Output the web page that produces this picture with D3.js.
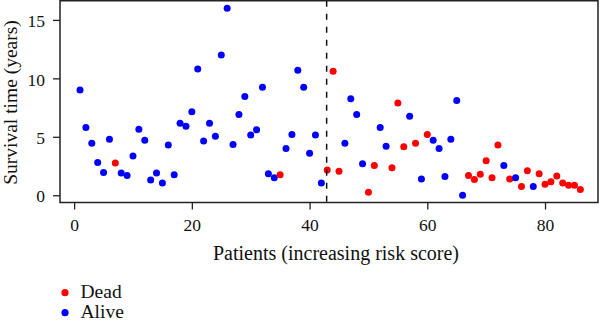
<!DOCTYPE html>
<html>
<head>
<meta charset="utf-8">
<script src="https://cdn.jsdelivr.net/npm/d3@7"></script>
<style>
  html, body { margin: 0; padding: 0; background: #fff; }
  svg { display: block; }
  text { font-family: "Liberation Serif", "Times New Roman", serif; fill: #111; }
</style>
</head>
<body>
<svg id="chart" width="600" height="322"></svg>
<script>
// Patient index (ordered by increasing risk score)
const patients = d3.range(1, 87);
// Survival time in years for each patient
const survivalYears = [
  9.0, 5.8, 4.45, 2.8, 1.95, 4.8, 2.75, 1.9, 1.7, 3.35,
  5.65, 4.7, 1.3, 1.9, 1.05, 4.3, 1.75, 6.15, 5.9, 7.15,
  10.8, 4.65, 6.15, 5.05, 12.0, 16.0, 4.35, 6.9, 8.45, 5.15,
  5.6, 9.25, 1.85, 1.5, 1.75, 4.0, 5.2, 10.7, 9.25, 3.6,
  5.15, 1.05, 2.15, 10.6, 2.05, 4.45, 8.25, 6.9, 2.7, 0.25,
  2.55, 5.8, 4.2, 2.35, 7.9, 4.15, 6.75, 4.45, 1.4, 5.2,
  4.7, 4.0, 1.6, 4.8, 8.1, 0.0, 1.7, 1.35, 1.8, 2.95,
  1.5, 4.3, 2.55, 1.4, 1.5, 0.75, 2.1, 0.75, 1.85, 0.95,
  1.15, 1.65, 1.05, 0.85, 0.85, 0.5
];
// Vital status for each patient: D = Dead, A = Alive
const vitalStatus = [
  "A","A","A","A","A","A","D","A","A","A",
  "A","A","A","A","A","A","A","A","A","A",
  "A","A","A","A","A","A","A","A","A","A",
  "A","A","A","A","D","A","A","A","A","A",
  "A","A","D","D","D","A","A","A","A","D",
  "D","A","A","D","D","D","A","D","A","D",
  "A","A","A","A","A","A","D","D","D","D",
  "D","D","A","D","A","D","D","A","D","D",
  "D","D","D","D","D","D"
];
const legendLabels = ["Dead", "Alive"];
const legendKeys = ["D", "A"];
const xTicks = [0, 20, 40, 60, 80];
const yTicks = [0, 5, 10, 15];
const riskCutoff = [42.9];

const colorOf = { D: "#ff0000", A: "#0000ff" };

const svg = d3.select("#chart");
const L = 60, R = 598, T = 0.75, B = 202.5;

const x = d3.scaleLinear().domain([-2.4, 89.0]).range([L, R]);
const y = d3.scaleLinear().domain([-0.62, 16.64]).range([B, T]);

const data = patients.map((p, i) => ({ p, t: survivalYears[i], s: vitalStatus[i] }));

// points
svg.append("g").selectAll("circle").data(data).join("circle")
  .attr("cx", d => x(d.p))
  .attr("cy", d => y(d.t))
  .attr("r", 3.5)
  .attr("fill", d => colorOf[d.s]);

// cutoff dashed line
svg.append("g").selectAll("line").data(riskCutoff).join("line")
  .attr("x1", d => x(d)).attr("x2", d => x(d))
  .attr("y1", T).attr("y2", B)
  .attr("stroke", "#111").attr("stroke-width", 1.5)
  .attr("stroke-dasharray", "6,7");

// box
svg.append("rect")
  .attr("x", L).attr("y", T).attr("width", R - L).attr("height", B - T)
  .attr("fill", "none").attr("stroke", "#222").attr("stroke-width", 1.5);

// y axis
const gy = svg.append("g").attr("transform", `translate(${L},0)`)
  .call(d3.axisLeft(y).tickValues(yTicks).tickSize(7).tickPadding(8).tickFormat(d3.format("d")));
gy.select(".domain").remove();
gy.selectAll(".tick line").attr("stroke", "#222").attr("stroke-width", 1.3);
gy.selectAll(".tick text").attr("font-size", 17.5).attr("dy", "0.38em")
  .attr("font-family", '"Liberation Serif", serif').attr("fill", "#111");

// x axis
const gx = svg.append("g").attr("transform", `translate(0,${B})`)
  .call(d3.axisBottom(x).tickValues(xTicks).tickSize(7).tickPadding(6).tickFormat(d3.format("d")));
gx.select(".domain").remove();
gx.selectAll(".tick line").attr("stroke", "#222").attr("stroke-width", 1.3);
gx.selectAll(".tick text").attr("font-size", 17.5).attr("y", 28.5).attr("dy", 0)
  .attr("font-family", '"Liberation Serif", serif').attr("fill", "#111");

// axis titles
svg.append("text")
  .attr("x", 336).attr("y", 260)
  .attr("text-anchor", "middle").attr("font-size", 20)
  .text("Patients (increasing risk score)");

svg.append("text")
  .attr("transform", "translate(16.5,102.5) rotate(-90)")
  .attr("text-anchor", "middle").attr("font-size", 19.5)
  .text("Survival time (years)");

// legend
const lg = svg.append("g");
legendKeys.forEach((k, i) => {
  const cy = 292.7 + i * 20;
  lg.append("circle").attr("cx", 65).attr("cy", cy).attr("r", 3.6).attr("fill", colorOf[k]);
  lg.append("text").attr("x", 80.5).attr("y", cy + 5.2).attr("font-size", 19.5).text(legendLabels[i]);
});
</script>
</body>
</html>
